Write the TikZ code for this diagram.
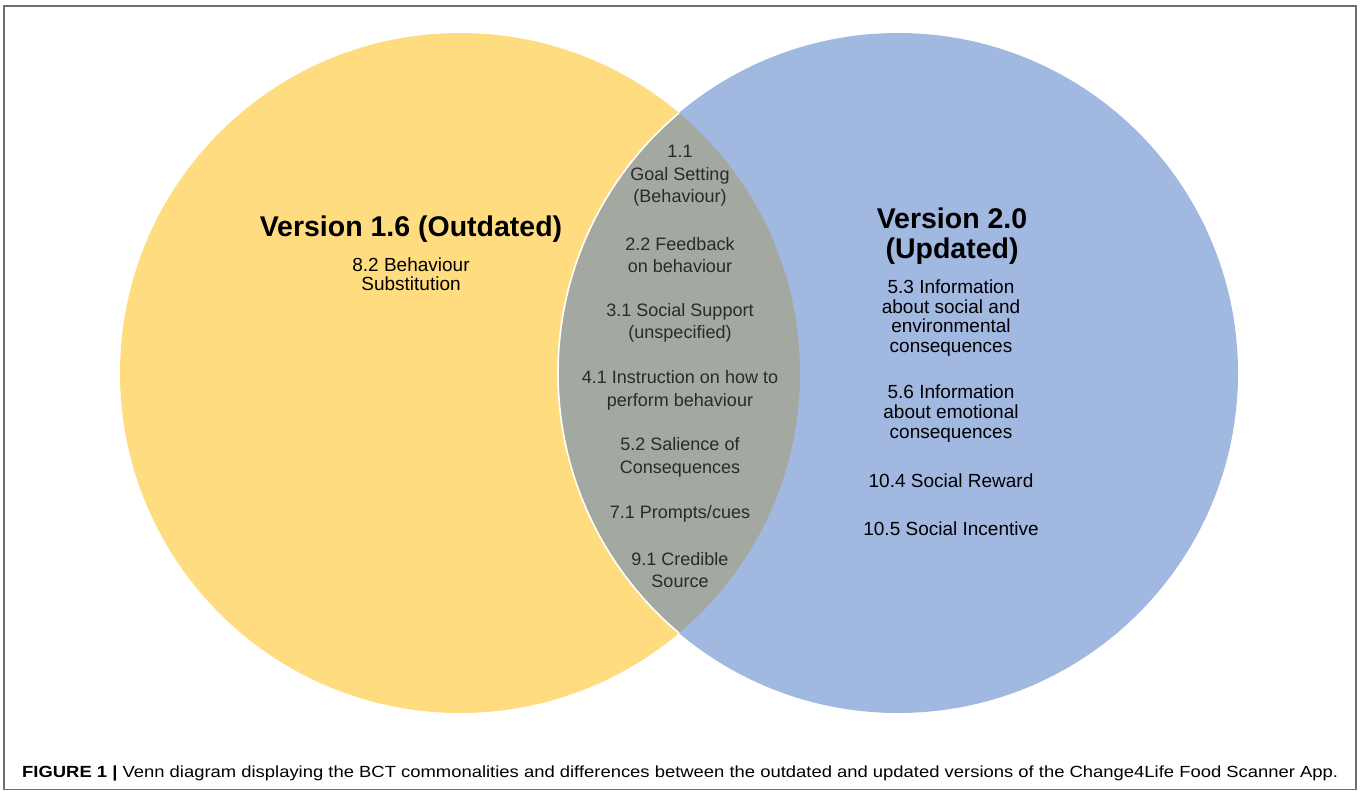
\documentclass[tikz,border=0pt]{standalone}
\usepackage{fontspec}
\setmainfont{Liberation Sans}
\usepackage{graphicx}
\definecolor{vyellow}{HTML}{FFDC7F}
\definecolor{vblue}{HTML}{A1B8E1}
\definecolor{vgray}{HTML}{A3A8A0}
\definecolor{lenstext}{HTML}{2A2A2A}
\definecolor{frameline}{HTML}{6E6E6E}
\begin{document}
\begin{tikzpicture}[x=1pt,y=-1pt,
  lenstxt/.style={font=\fontsize{18}{22.5}\selectfont, align=center, text=lenstext, inner sep=0pt},
  sidetxt/.style={font=\fontsize{19}{19.6}\selectfont, align=center, text=black, inner sep=0pt},
  titletxt/.style={font=\fontsize{28.5}{30}\selectfont\bfseries, align=center, text=black, inner sep=0pt}]
\useasboundingbox (0,0) rectangle (1360,792);
% frame
\draw[frameline, line width=1.3pt] (4,6) rectangle (1356,789.5);
% circles
\fill[vyellow] (460,373) circle[radius=340pt];
\fill[vblue] (898,373) circle[radius=340pt];
\begin{scope}
  \clip (460,373) circle[radius=340pt];
  \fill[vgray] (898,373) circle[radius=340pt];
  \draw[white, line width=1.6pt] (898,373) circle[radius=340pt];
\end{scope}
% left
\node[titletxt] (t1) at (411,229) {Version 1.6 (Outdated)};
\node[sidetxt, font=\fontsize{19}{19}\selectfont] (b82) at (411,274.5) {8.2 Behaviour\\Substitution};
% right
\node[titletxt] (t2) at (952,236) {Version 2.0\\(Updated)};
\node[sidetxt] (b53) at (951,318) {5.3 Information\\about social and\\environmental\\consequences};
\node[sidetxt] (b56) at (951,413.5) {5.6 Information\\about emotional\\consequences};
\node[sidetxt] (b104) at (951,481) {10.4 Social Reward};
\node[sidetxt] (b105) at (951,529) {10.5 Social Incentive};
% lens
\node[lenstxt] (l11) at (680,176) {1.1\\Goal Setting\\(Behaviour)};
\node[lenstxt] (l22) at (680,255) {2.2 Feedback\\on behaviour};
\node[lenstxt] (l31) at (680,323) {3.1 Social Support\\(unspecified)};
\node[lenstxt] (l41) at (680,390.5) {4.1 Instruction on how to\\perform behaviour};
\node[lenstxt] (l52) at (680,457.5) {5.2 Salience of\\Consequences};
\node[lenstxt] (l71) at (680,514) {7.1 Prompts/cues};
\node[lenstxt] (l91) at (680,570) {9.1 Credible\\Source};
% caption
\node[anchor=base west, inner sep=0pt, text=black] (cap) at (22,777)
  {\resizebox{1316pt}{11.7pt}{\fontsize{16}{16}\selectfont\textbf{FIGURE 1 |} Venn diagram displaying the BCT commonalities and differences between the outdated and updated versions of the Change4Life Food Scanner App.}};
\end{tikzpicture}
\end{document}
